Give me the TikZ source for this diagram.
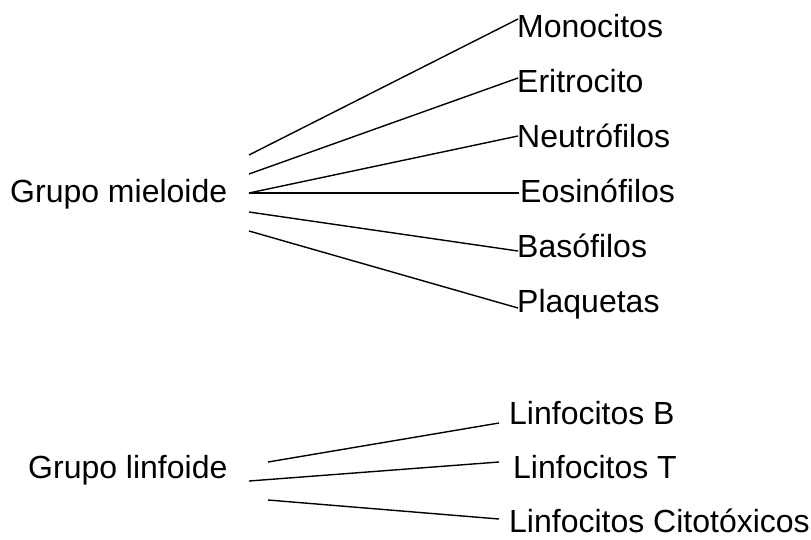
\documentclass[tikz,border=0pt]{standalone}
\usepackage{fontspec}
\setmainfont{Liberation Sans}
\begin{document}
\begin{tikzpicture}[x=1pt,y=-1pt,
  lbl/.style={inner sep=0pt,anchor=base west,font=\fontsize{32}{38}\selectfont},
  conn/.style={line width=1.4pt,line cap=butt}]
\useasboundingbox (0,0) rectangle (811,539);
% labels
\node[lbl] (gm) at (10,202) {Grupo mieloide};
\node[lbl] (mo) at (517,37) {Monocitos};
\node[lbl] (er) at (517,92) {Eritrocito};
\node[lbl] (ne) at (517,147) {Neutrófilos};
\node[lbl] (eo) at (520,202) {Eosinófilos};
\node[lbl] (ba) at (517,257) {Basófilos};
\node[lbl] (pl) at (517,312) {Plaquetas};
\node[lbl] (gl) at (28,478) {Grupo linfoide};
\node[lbl] (lb) at (509,424) {Linfocitos B};
\node[lbl] (lt) at (513,478) {Linfocitos T};
\node[lbl] (lc) at (509,532) {Linfocitos Citotóxicos};
% connector end points
\coordinate (m1) at (249,155); \coordinate (m1e) at (518,19);
\coordinate (m2) at (249,174); \coordinate (m2e) at (518,78);
\coordinate (m3) at (249,193); \coordinate (m3e) at (518,136);
\coordinate (m4) at (249,193); \coordinate (m4e) at (519,193);
\coordinate (m5) at (249,212); \coordinate (m5e) at (518,251);
\coordinate (m6) at (249,231); \coordinate (m6e) at (518,308);
\coordinate (l1) at (268,462); \coordinate (l1e) at (499,423);
\coordinate (l2) at (249,481); \coordinate (l2e) at (499,462);
\coordinate (l3) at (268,500); \coordinate (l3e) at (499,519);
\draw[conn] (m1) -- (m1e);
\draw[conn] (m2) -- (m2e);
\draw[conn] (m3) -- (m3e);
\draw[conn] (m4) -- (m4e);
\draw[conn] (m5) -- (m5e);
\draw[conn] (m6) -- (m6e);
\draw[conn] (l1) -- (l1e);
\draw[conn] (l2) -- (l2e);
\draw[conn] (l3) -- (l3e);
\end{tikzpicture}
\end{document}
